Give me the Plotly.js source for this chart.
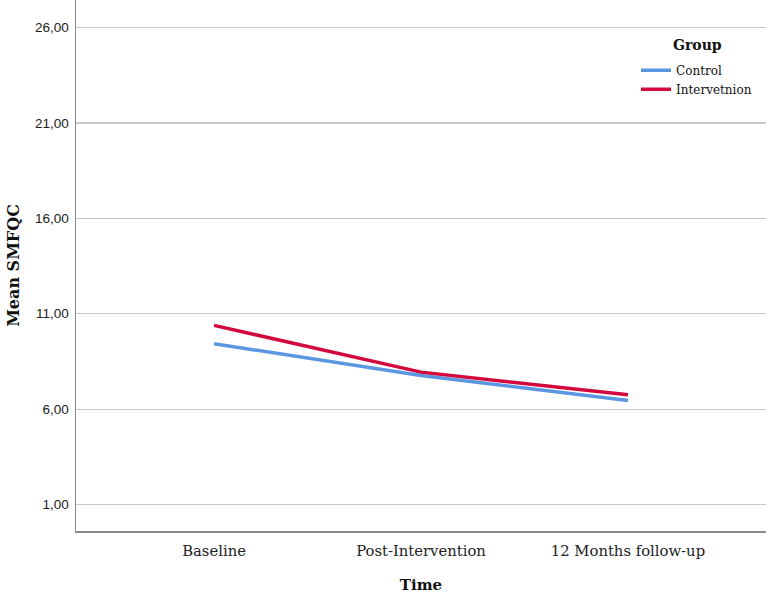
<!DOCTYPE html>
<html><head><meta charset="utf-8">
<script src="https://cdn.plot.ly/plotly-3.0.1.min.js"></script>
<style>html,body{margin:0;padding:0;background:#fff}#chart{width:768px;height:594px}</style>
</head><body><div id="chart"></div>
<script>
const timePoints = ["Baseline", "Post-Intervention", "12 Months follow-up"];
const controlMeans = [9.43, 7.76, 6.45];
const interventionMeans = [10.39, 7.94, 6.75];
const yTickVals = [1, 6, 11, 16, 21, 26];
const yTickText = ["1,00", "6,00", "11,00", "16,00", "21,00", "26,00"];

const SERIF = "DejaVu Serif, serif";
const traces = [
  {x: timePoints, y: controlMeans, type: "scatter", mode: "lines", name: "Control",
   line: {color: "#5b97e1", width: 3.5}},
  {x: timePoints, y: interventionMeans, type: "scatter", mode: "lines", name: "Intervetnion",
   line: {color: "#d2093c", width: 3.5}}
];
const layout = {
  width: 768, height: 594,
  margin: {l: 76, r: 2, t: 0, b: 63},
  paper_bgcolor: "#fff", plot_bgcolor: "#fff",
  showlegend: true,
  legend: {
    x: 0.8116, y: 0.895, xanchor: "left", yanchor: "top",
    bgcolor: "rgba(0,0,0,0)",
    font: {family: SERIF, size: 12, color: "#111"},
    itemwidth: 30, tracegroupgap: 0
  },
  annotations: [{
    text: "<b>Group</b>", xref: "paper", yref: "paper", x: 0.9, y: 1 - 45/531,
    xanchor: "center", yanchor: "middle", showarrow: false,
    font: {family: SERIF, size: 14, color: "#111"}
  }],
  xaxis: {
    type: "category", range: [-0.667, 2.667],
    showgrid: false, zeroline: false,
    showline: true, linecolor: "#8c8c8c", linewidth: 1.5,
    ticks: "", ticklabelstandoff: 6,
    tickfont: {family: SERIF, size: 14.8, color: "#222"},
    title: {text: "<b>Time</b>", font: {family: SERIF, size: 15, color: "#111"}, standoff: 21}
  },
  yaxis: {
    range: [-0.385, 27.44],
    tickvals: yTickVals, ticktext: yTickText,
    showgrid: true, gridcolor: "#c8c8c8", gridwidth: 1.2,
    zeroline: false, showline: true, linecolor: "#8c8c8c", linewidth: 1.5,
    ticks: "", ticklabelstandoff: 3,
    tickfont: {family: "Liberation Sans, Arial, sans-serif", size: 13.5, color: "#222"},
    title: {text: "<b>Mean SMFQC</b>", font: {family: SERIF, size: 16, color: "#111"}, standoff: 11}
  }
};
Plotly.newPlot("chart", traces, layout, {displayModeBar: false, staticPlot: true});
</script></body></html>
